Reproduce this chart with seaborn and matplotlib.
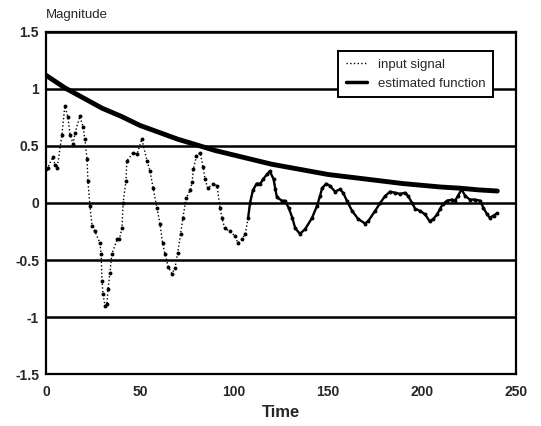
import pandas as pd
import seaborn as sns
import matplotlib.pyplot as plt

# input signal (time, magnitude)
sig_time = [0, 1, 3.5, 5, 6, 8.5, 10, 11.7, 12.8, 14.4, 15.4, 18, 19.7, 20.7, 21.8, 22.3,
            23.4, 24.5, 26, 28.7, 29.3, 29.8, 30.3, 31.4, 32.4, 33, 34, 35, 37.8, 39, 40.4,
            41, 42.5, 43, 46.3, 48.4, 51, 53.7, 55.3, 57, 59, 60.6, 62, 63.3, 65, 67, 68.6,
            70, 71.6, 72.8, 74.5, 76.6, 77.7, 78.4, 80, 82, 83.5, 84.6, 86, 89, 91, 92.5,
            93.6, 95, 97.8, 100.5, 102, 104, 106, 107.5, 108.5, 110, 112, 114, 115.5, 117.5,
            119, 121, 122, 122.8, 125.5, 127, 129, 131, 132.5, 135, 137.8, 141.5, 144, 145.7,
            146.8, 149, 151, 153.7, 156.4, 158, 160, 162.8, 166, 169.7, 171.3, 175, 177.7,
            180.3, 183, 185.6, 188.3, 191, 192.6, 194.7, 196.3, 199, 201.6, 204, 206, 208,
            209.6, 211, 213.3, 216, 217.5, 219, 221, 223, 225.5, 228, 231, 232.5, 234.6, 236,
            238, 240]
sig_value = [0.30, 0.31, 0.40, 0.33, 0.31, 0.60, 0.85, 0.75, 0.60, 0.52, 0.61, 0.76, 0.67,
             0.56, 0.39, 0.19, -0.03, -0.20, -0.25, -0.35, -0.45, -0.68, -0.80, -0.90, -0.89,
             -0.75, -0.61, -0.45, -0.32, -0.32, -0.22, 0.00, 0.19, 0.37, 0.44, 0.43, 0.56,
             0.37, 0.28, 0.13, -0.04, -0.18, -0.35, -0.45, -0.56, -0.62, -0.57, -0.44, -0.27,
             -0.13, 0.04, 0.11, 0.18, 0.30, 0.41, 0.44, 0.32, 0.21, 0.13, 0.17, 0.15, -0.04,
             -0.13, -0.22, -0.25, -0.29, -0.35, -0.32, -0.27, -0.13, 0.00, 0.11, 0.17, 0.17,
             0.21, 0.25, 0.28, 0.21, 0.12, 0.05, 0.02, 0.02, -0.04, -0.13, -0.22, -0.27,
             -0.23, -0.13, -0.03, 0.06, 0.13, 0.17, 0.15, 0.10, 0.12, 0.09, 0.02, -0.07,
             -0.14, -0.18, -0.16, -0.07, 0.00, 0.06, 0.10, 0.09, 0.08, 0.09, 0.06, 0.00,
             -0.05, -0.07, -0.10, -0.16, -0.14, -0.10, -0.05, -0.01, 0.02, 0.03, 0.02, 0.06,
             0.12, 0.06, 0.03, 0.03, 0.02, -0.04, -0.10, -0.13, -0.11, -0.09]

# estimated (decaying) function read every 10 time units
est_time = [0, 10, 20, 30, 40, 50, 60, 70, 80, 90, 100, 110, 120, 130, 140, 150, 160, 170,
            180, 190, 200, 210, 220, 230, 240]
est_value = [1.12, 1.01, 0.92, 0.83, 0.76, 0.68, 0.62, 0.56, 0.51, 0.46, 0.42, 0.38, 0.34,
             0.31, 0.28, 0.25, 0.23, 0.21, 0.19, 0.17, 0.155, 0.14, 0.13, 0.115, 0.105]

xticks = [0, 50, 100, 150, 200, 250]
yticks = [-1.5, -1, -0.5, 0, 0.5, 1, 1.5]
ytick_labels = ["-1.5", "-1", "-0.5", "0", "0.5", "1", "1.5"]

sig_df = pd.DataFrame({"Time": sig_time, "Magnitude": sig_value})
est_df = pd.DataFrame({"Time": est_time, "Magnitude": est_value})
# on the scan the slow tail of the signal prints almost as a solid line
late_df = sig_df[sig_df["Time"] >= 107.5]

sns.set_style("white")
plt.rcParams["font.family"] = ["Liberation Sans", "DejaVu Sans"]

fig = plt.figure(figsize=(5.41, 4.26), dpi=100)
ax = fig.add_axes([0.085, 0.122, 0.869, 0.803])

for y in yticks:
    ax.axhline(y, color="black", lw=1.8, zorder=1)

sns.lineplot(data=sig_df, x="Time", y="Magnitude", ax=ax, color="black", lw=1.0,
             linestyle=":", marker="o", markersize=2.8, markeredgewidth=0,
             label="input signal", zorder=3)
sns.lineplot(data=late_df, x="Time", y="Magnitude", ax=ax, color="black", lw=1.7,
             zorder=3, legend=False)
sns.lineplot(data=est_df, x="Time", y="Magnitude", ax=ax, color="black", lw=3.5,
             label="estimated function", zorder=4)

ax.set_xlim(0, 250)
ax.set_ylim(-1.5, 1.5)
ax.set_xticks(xticks)
ax.set_yticks(yticks)
ax.set_yticklabels(ytick_labels)
ax.tick_params(axis="x", direction="in", length=5, width=1.2, labelsize=10, pad=8)
ax.tick_params(axis="y", length=0, labelsize=10, pad=5)
for lab in ax.get_xticklabels() + ax.get_yticklabels():
    lab.set_fontweight("bold")

for s in ax.spines.values():
    s.set_color("black")
    s.set_linewidth(1.6)

ax.set_ylabel("")
ax.set_xlabel("Time", fontsize=12, fontweight="bold", labelpad=4)
fig.text(0.085, 0.95, "Magnitude", fontsize=9.5, ha="left", va="bottom")

handles, labels = ax.get_legend_handles_labels()
leg = ax.legend(handles[:1] + handles[-1:], ["input signal", "estimated function"],
                loc="upper right", bbox_to_anchor=(0.965, 0.965), fontsize=9.5,
                frameon=True, fancybox=False, handlelength=1.6, borderpad=0.6,
                labelspacing=0.5)
leg.get_frame().set_edgecolor("black")
leg.get_frame().set_linewidth(1.4)
leg.get_frame().set_alpha(1)
for h in leg.get_lines():
    h.set_marker("")
leg.get_lines()[1].set_linewidth(2.5)

fig.savefig("out.png", dpi=100)
